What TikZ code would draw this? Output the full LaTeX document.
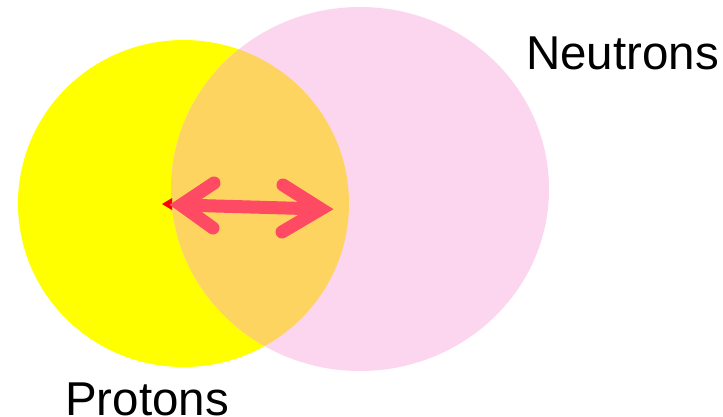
\documentclass[tikz,border=0pt]{standalone}
\usepackage{fontspec}
\setmainfont{Liberation Sans}
\begin{document}
\begin{tikzpicture}[x=1pt,y=-1pt,
  lbl/.style={font=\fontsize{47.5}{50}\selectfont, inner sep=0pt, anchor=base west},
  arr/.style={draw=arrowred, line width=13pt, line cap=round, line join=miter}]
\definecolor{yel}{RGB}{255,255,0}
\definecolor{pnk}{RGB}{252,213,238}
\definecolor{ovl}{RGB}{254,212,96}
\definecolor{arrowred}{RGB}{255,74,100}
\useasboundingbox (0,0) rectangle (723,416);
\fill[yel] (183.5,203.5) ellipse [x radius=165.5, y radius=163.5];
\fill[pnk] (360,189) ellipse [x radius=189, y radius=182];
\begin{scope}
  \clip (183.5,203.5) ellipse [x radius=165.5, y radius=163.5];
  \fill[ovl] (360,189) ellipse [x radius=189, y radius=182];
\end{scope}
\coordinate (L) at (181,205);
\coordinate (R) at (321,209);
\coordinate (la) at (214,183);
\coordinate (lb) at (213,228);
\coordinate (ra) at (283,185);
\coordinate (rb) at (282,232);
\fill[red] (162,204) -- (172,198) -- (172,210) -- cycle;
\draw[arr, line cap=butt] (L) -- (R);
\draw[arr] (la) -- (L) -- (lb);
\draw[arr] (ra) -- (R) -- (rb);
\node[lbl] (n) at (526,69) {Neutrons};
\node[lbl] (p) at (65,415) {Protons};
\end{tikzpicture}
\end{document}
